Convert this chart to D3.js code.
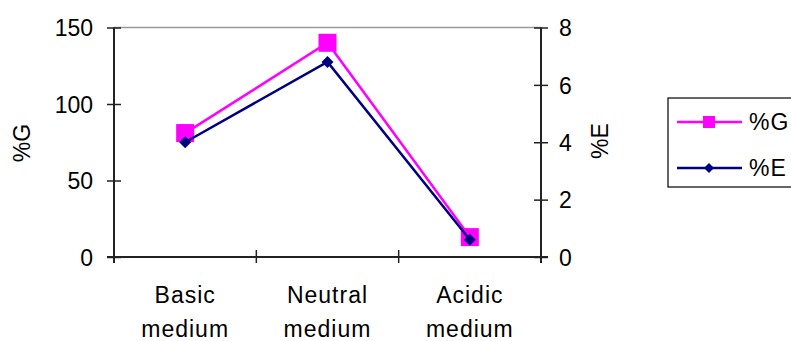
<!DOCTYPE html>
<html>
<head>
<meta charset="utf-8">
<script src="https://cdn.jsdelivr.net/npm/d3@7"></script>
<style>
  body { margin: 0; background: #fff; }
  text { font-family: "Liberation Sans", Arial, sans-serif; fill: #000; }
</style>
</head>
<body>
<script>
// data
var categories = ["Basic medium", "Neutral medium", "Acidic medium"];
var gValues = [81, 140, 13];
var eValues = [4.0, 6.8, 0.6];
var gTicks = [0, 50, 100, 150];
var eTicks = [0, 2, 4, 6, 8];

var width = 791, height = 341;
var plotLeft = 114, plotRight = 541, plotTop = 27.5, plotBottom = 257;
var fontSize = "23px";

var svg = d3.select("body").append("svg")
    .attr("width", width)
    .attr("height", height);

var x = d3.scaleBand().domain(categories).range([plotLeft, plotRight]);
var yG = d3.scaleLinear().domain([0, 150]).range([plotBottom, plotTop]);
var yE = d3.scaleLinear().domain([0, 8]).range([plotBottom, plotTop]);

// plot area top border (grey)
svg.append("line")
  .attr("x1", plotLeft).attr("x2", plotRight)
  .attr("y1", plotTop).attr("y2", plotTop)
  .attr("stroke", "#9a9a9a").attr("stroke-width", 1.5);

// left axis
var gAxis = svg.append("g")
  .attr("transform", "translate(" + plotLeft + ",0)")
  .call(d3.axisLeft(yG).tickValues(gTicks).tickSize(7).tickPadding(14));
gAxis.select(".domain").remove();
gAxis.selectAll(".tick line").attr("x1", 7).attr("stroke", "#222").attr("stroke-width", 1.5);
gAxis.selectAll(".tick text").style("font-size", fontSize).attr("dy", "0.36em");
gAxis.attr("font-family", null);
gAxis.append("line").attr("y1", plotTop).attr("y2", plotBottom + 6)
  .attr("stroke", "#222").attr("stroke-width", 2);

// right axis
var eAxis = svg.append("g")
  .attr("transform", "translate(" + plotRight + ",0)")
  .call(d3.axisRight(yE).tickValues(eTicks).tickSize(7).tickPadding(11));
eAxis.select(".domain").remove();
eAxis.selectAll(".tick line").attr("x1", -7).attr("stroke", "#222").attr("stroke-width", 1.5);
eAxis.selectAll(".tick text").style("font-size", fontSize).attr("dy", "0.36em");
eAxis.attr("font-family", null);
eAxis.append("line").attr("y1", plotTop).attr("y2", plotBottom + 6)
  .attr("stroke", "#222").attr("stroke-width", 2);

// bottom axis
var xAxis = svg.append("g")
  .attr("transform", "translate(0," + plotBottom + ")")
  .call(d3.axisBottom(x).tickSize(0).tickPadding(0));
xAxis.select(".domain").remove();
xAxis.selectAll(".tick").remove();
xAxis.attr("font-family", null);
xAxis.append("line").attr("x1", plotLeft - 7).attr("x2", plotRight + 7)
  .attr("stroke", "#222").attr("stroke-width", 2);
var edges = categories.map(function(c) { return x(c); }).concat([plotRight]);
xAxis.selectAll(".edge").data(edges).enter().append("line")
  .attr("class", "edge")
  .attr("x1", function(d) { return d; }).attr("x2", function(d) { return d; })
  .attr("y1", -7).attr("y2", 6)
  .attr("stroke", "#222").attr("stroke-width", 1.5);

// category labels on two lines
var lab = xAxis.selectAll(".cat").data(categories).enter().append("text")
  .attr("class", "cat")
  .attr("text-anchor", "middle")
  .style("font-size", fontSize)
  .style("letter-spacing", "1px")
  .attr("transform", function(d) { return "translate(" + (x(d) + x.bandwidth() / 2) + ",0)"; });
lab.append("tspan").attr("x", 0).attr("y", 46).text(function(d) { return d.split(" ")[0]; });
lab.append("tspan").attr("x", 0).attr("y", 80).text(function(d) { return d.split(" ")[1]; });

// axis titles
svg.append("text").attr("transform", "translate(30,143) rotate(-90)")
  .attr("text-anchor", "middle").style("font-size", fontSize).text("%G");
svg.append("text").attr("transform", "translate(608,141) rotate(-90)")
  .attr("text-anchor", "middle").style("font-size", fontSize).text("%E");

function cx(d, i) { return x(categories[i]) + x.bandwidth() / 2; }

// %G series
svg.append("path").datum(gValues)
  .attr("fill", "none").attr("stroke", "#ff00ff").attr("stroke-width", 2.5)
  .attr("d", d3.line().x(cx).y(function(d) { return yG(d); }));
svg.selectAll(".gm").data(gValues).enter().append("rect")
  .attr("class", "gm")
  .attr("x", function(d, i) { return cx(d, i) - 9; })
  .attr("y", function(d) { return yG(d) - 9; })
  .attr("width", 18).attr("height", 18)
  .attr("fill", "#ff00ff");

// %E series
svg.append("path").datum(eValues)
  .attr("fill", "none").attr("stroke", "#000080").attr("stroke-width", 2.5)
  .attr("d", d3.line().x(cx).y(function(d) { return yE(d); }));
svg.selectAll(".em").data(eValues).enter().append("path")
  .attr("class", "em")
  .attr("transform", function(d, i) { return "translate(" + cx(d, i) + "," + yE(d) + ")"; })
  .attr("d", "M0,-6L6,0L0,6L-6,0Z")
  .attr("fill", "#000080");

// legend
var legend = svg.append("g").attr("transform", "translate(668,98)");
legend.append("rect").attr("x", 0).attr("y", 0).attr("width", 140).attr("height", 89)
  .attr("fill", "#fff").attr("stroke", "#000").attr("stroke-width", 1.2);
var items = [
  { name: "%G", color: "#ff00ff", shape: "square", y: 24 },
  { name: "%E", color: "#000080", shape: "diamond", y: 70 }
];
items.forEach(function(it) {
  legend.append("line").attr("x1", 9).attr("x2", 74).attr("y1", it.y).attr("y2", it.y)
    .attr("stroke", it.color).attr("stroke-width", 2.5);
  if (it.shape === "square") {
    legend.append("rect").attr("x", 35).attr("y", it.y - 6).attr("width", 12).attr("height", 12)
      .attr("fill", it.color);
  } else {
    legend.append("path").attr("transform", "translate(41," + it.y + ")")
      .attr("d", "M0,-5L5,0L0,5L-5,0Z").attr("fill", it.color);
  }
  legend.append("text").attr("x", 81).attr("y", it.y).attr("dy", "0.36em")
    .style("font-size", fontSize).style("letter-spacing", "1px").text(it.name);
});
</script>
</body>
</html>
